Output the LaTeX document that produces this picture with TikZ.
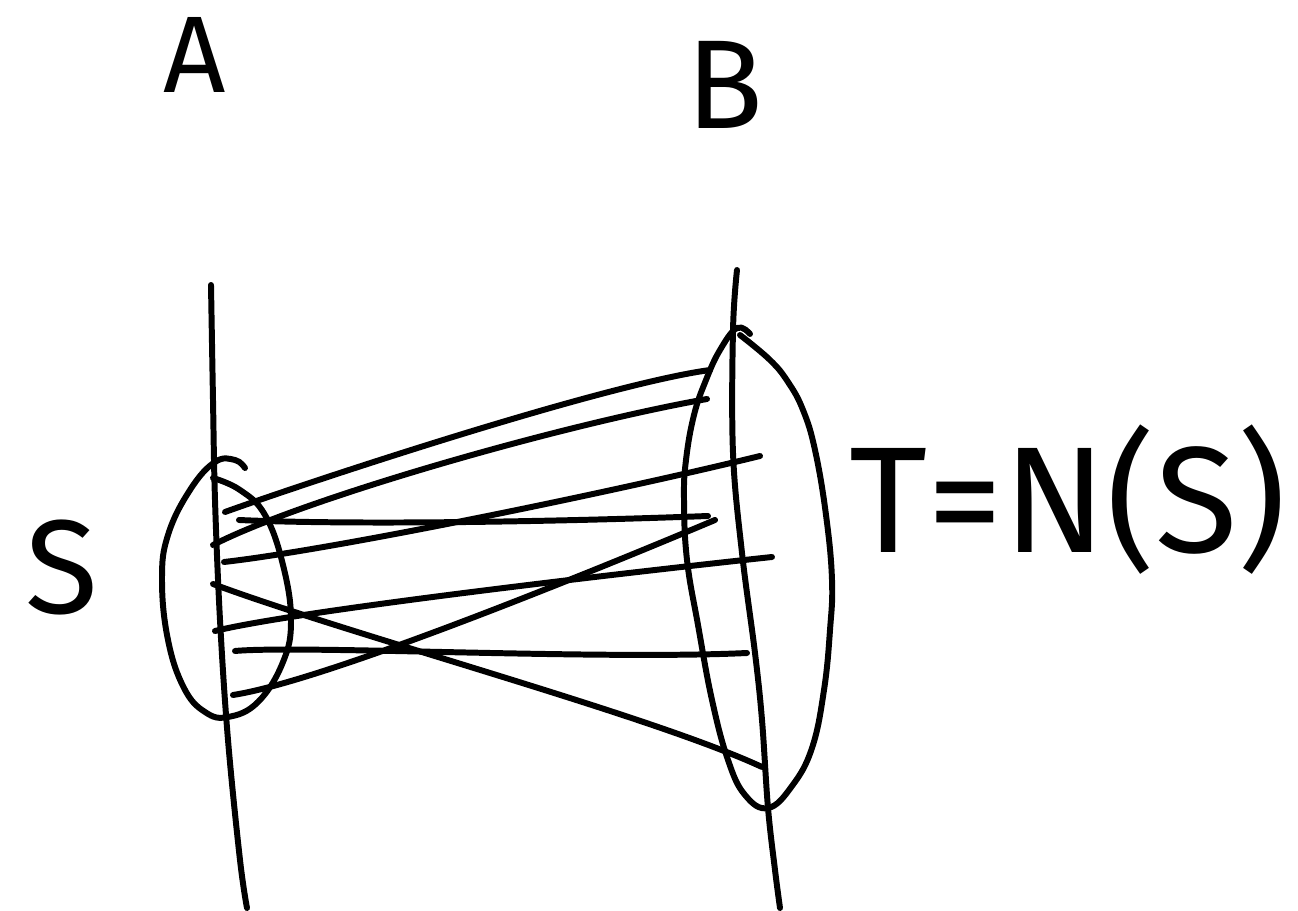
\documentclass[tikz,border=0pt]{standalone}
\usepackage{fontspec}
\setmainfont{Fira Sans}
\usetikzlibrary{positioning}

\begin{document}
\begin{tikzpicture}[
  x=0.02cm, y=-0.02cm,
  pen/.style={line width=3.4pt, line cap=round, line join=round},
  link/.style={pen},
  side/.style={pen, smooth, tension=0.6},
  lbl/.style={inner sep=0pt, font=\fontsize{#1}{#1}\selectfont},
  lbl/.default=64
]
\useasboundingbox (0,0) rectangle (1298,911);

% the two sides
\draw[side] plot coordinates {(211,285) (213,400) (215,500) (220,620) (228,740) (240,860) (247,908)};
\draw[side] plot coordinates {(737,270) (733,330) (733,453) (742,553) (755,653) (762,720) (768,808) (775,870) (780,908)};

% S and T
\draw[side, tension=0.7] plot coordinates {(245,468) (235,460) (215,462) (190,490) (168,535) (162,580) (168,640) (184,688) (205,712) (228,717) (258,702) (283,662) (291,620) (283,565) (265,515) (240,490) (213,478)};
\draw[side, tension=0.7] plot coordinates {(750,334) (737,328) (720,350) (706,380) (694,415) (686,460) (684,500) (687,560) (698,625) (712,700) (728,760) (745,795) (768,808) (792,786) (812,748) (824,690) (830,630) (832,580) (826,515) (815,450) (803,410) (788,382) (770,360) (740,335)};

% end points
\coordinate (s1) at (225,512);
\coordinate (s2) at (213,545);
\coordinate (s3) at (239,520);
\coordinate (s4) at (224,562);
\coordinate (s5) at (213,584);
\coordinate (s6) at (215,631);
\coordinate (s7) at (235,651);
\coordinate (s8) at (233,695);
\coordinate (t1) at (710,370);
\coordinate (t2) at (707,399);
\coordinate (t3) at (708,516);
\coordinate (t4) at (760,456);
\coordinate (t5) at (762,767);
\coordinate (t6) at (772,557);
\coordinate (t7) at (747,653);
\coordinate (t8) at (715,520);

\draw[link] (s1) .. controls (300,485) and (600,385) .. (t1);
\draw[link] (s2) .. controls (300,500) and (560,425) .. (t2);
\draw[link] (s3) .. controls (350,525) and (550,522) .. (t3);
\draw[link] (s4) .. controls (330,550) and (600,495) .. (t4);
\draw[link] (s5) .. controls (350,635) and (650,715) .. (t5);
\draw[link] (s6) .. controls (300,610) and (650,570) .. (t6);
\draw[link] (s7) .. controls (300,645) and (600,660) .. (t7);
\draw[link] (s8) .. controls (330,680) and (620,560) .. (t8);

% labels
\node[lbl=62] (labA) at (195,55) {A};
\node[lbl=72] (labB) at (725,85) {B};
\node[lbl=76] (labS) at (62,568) {S};
\node[lbl=86] (labT) at (1068,500) {T=N(S)};
\end{tikzpicture}
\end{document}
